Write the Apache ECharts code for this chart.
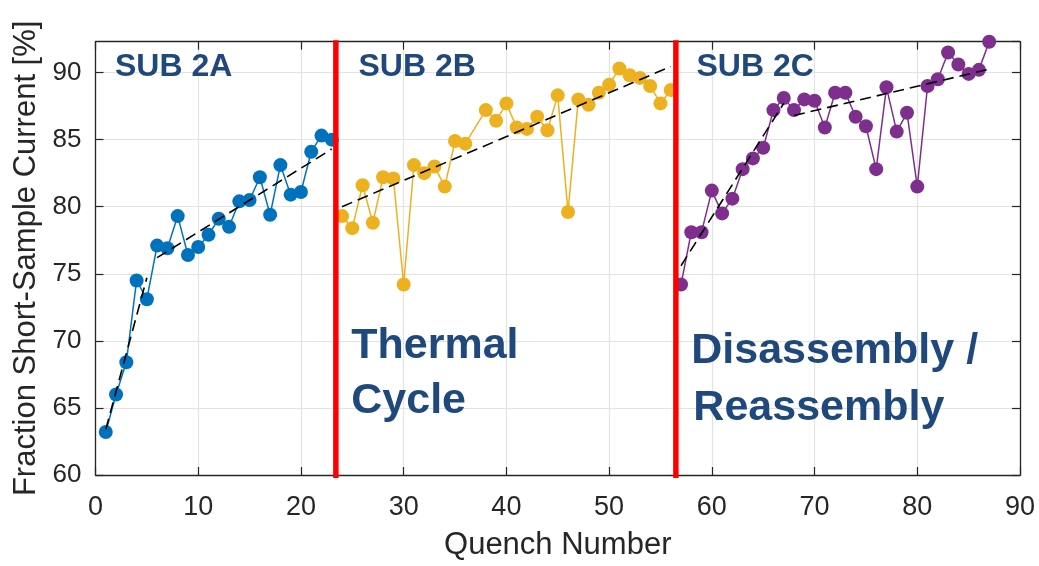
<!DOCTYPE html>
<html>
<head>
<meta charset="utf-8">
<script src="https://cdn.jsdelivr.net/npm/echarts@6/dist/echarts.min.js"></script>
<style>
  html, body { margin: 0; padding: 0; background: #ffffff; }
  #chart { width: 1039px; height: 566px; }
</style>
</head>
<body>
<div id="chart"></div>
<script>
// Quench performance of three sub-assemblies: [quench number, fraction of short-sample current %]
const sub2A = [
  [1, 63.2], [2, 66.0], [3, 68.4], [4, 74.5], [5, 73.1], [6, 77.1], [7, 76.9], [8, 79.3],
  [9, 76.4], [10, 77.0], [11, 77.9], [12, 79.1], [13, 78.5], [14, 80.4], [15, 80.5],
  [16, 82.2], [17, 79.4], [18, 83.1], [19, 80.9], [20, 81.1], [21, 84.1], [22, 85.3], [23, 85.0]
];
const sub2B = [
  [24, 79.3], [25, 78.4], [26, 81.6], [27, 78.8], [28, 82.2], [29, 82.1], [30, 74.2],
  [31, 83.1], [32, 82.5], [33, 83.0], [34, 81.5], [35, 84.9], [36, 84.7], [38, 87.2],
  [39, 86.4], [40, 87.7], [41, 85.9], [42, 85.8], [43, 86.7], [44, 85.7], [45, 88.3],
  [46, 79.6], [47, 88.0], [48, 87.6], [49, 88.5], [50, 89.1], [51, 90.3], [52, 89.8],
  [53, 89.6], [54, 89.0], [55, 87.7], [56, 88.7]
];
const sub2C = [
  [57, 74.2], [58, 78.1], [59, 78.1], [60, 81.2], [61, 79.5], [62, 80.6], [63, 82.8],
  [64, 83.6], [65, 84.4], [66, 87.2], [67, 88.1], [68, 87.2], [69, 88.0], [70, 87.9],
  [71, 85.9], [72, 88.5], [73, 88.5], [74, 86.7], [75, 86.0], [76, 82.8], [77, 88.9],
  [78, 85.6], [79, 87.0], [80, 81.5], [81, 89.0], [82, 89.5], [83, 91.5], [84, 90.6],
  [85, 89.9], [86, 90.2], [87, 92.3]
];

// Linear trend segments (end points)
const trendA1 = [[1, 63.4], [5, 74.7]];
const trendA2 = [[6, 76.2], [23, 84.3]];
const trendB  = [[24, 80.0], [56, 90.45]];
const trendC1 = [[57, 75.6], [67, 87.7]];
const trendC2 = [[68, 86.8], [87, 90.25]];

// Events separating the sub-assembly runs
const eventX = [23.4, 56.5];
const eventSpan = [59.78, 92.4];

// Text annotations: [x, y, text]
const subLabels = [
  [1.9, 90.4, 'SUB 2A'],
  [25.6, 90.4, 'SUB 2B'],
  [58.5, 90.4, 'SUB 2C']
];
const eventLabels = [
  [24.9, 69.6, 'Thermal'],
  [24.9, 65.5, 'Cycle'],
  [58.0, 69.25, 'Disassembly /'],
  [58.2, 64.95, 'Reassembly']
];

const xTicks = { min: 0, max: 90, interval: 10 };
const yTicks = { min: 60, max: 92.3, interval: 5 };

const FONT = "'Liberation Sans', Arial, Helvetica, sans-serif";
const AXIS_COLOR = '#262626';
const GRID_COLOR = '#e3e3e3';
const NOTE_COLOR = '#1F497D';

const chart = echarts.init(document.getElementById('chart'), null, { renderer: 'canvas' });

function dataSeries(name, data, color) {
  return {
    name, type: 'line', data, clip: false,
    symbol: 'circle', symbolSize: 14, showSymbol: true,
    lineStyle: { color, width: 1.5 },
    itemStyle: { color, opacity: 1 },
    z: 3, silent: true, animation: false
  };
}
function trendSeries(data) {
  return {
    type: 'line', data, clip: false, symbol: 'none',
    lineStyle: { color: '#000000', width: 1.6, type: [11, 6] },
    z: 4, silent: true, animation: false
  };
}
function eventSeries(x) {
  return {
    type: 'line', data: [[x, eventSpan[0]], [x, eventSpan[1]]], clip: false, symbol: 'none',
    lineStyle: { color: '#ff0000', width: 5.5 },
    z: 5, silent: true, animation: false
  };
}
function textSeries(items, fontSize) {
  return {
    type: 'scatter', symbolSize: 0, clip: false, silent: true, animation: false, z: 6,
    itemStyle: { opacity: 1 },
    data: items.map(d => ({ value: [d[0], d[1]], label: { formatter: d[2] } })),
    label: {
      show: true, position: 'inside', align: 'left', verticalAlign: 'middle', opacity: 1,
      color: NOTE_COLOR, fontFamily: FONT, fontWeight: 'bold', fontSize
    }
  };
}

const yFmt = v => (Math.abs(v % 5) < 1e-9 ? String(v) : '');

chart.setOption({
  animation: false,
  backgroundColor: '#ffffff',
  grid: { left: 95.5, right: 19, top: 41.7, bottom: 89 },
  xAxis: [
    {
      type: 'value', min: xTicks.min, max: xTicks.max, interval: xTicks.interval,
      name: 'Quench Number', nameLocation: 'middle', nameGap: 55,
      nameTextStyle: { color: AXIS_COLOR, fontSize: 31, fontFamily: FONT },
      axisLine: { show: true, onZero: false, lineStyle: { color: AXIS_COLOR, width: 1.3 } },
      axisTick: { show: true, inside: true, length: 8, lineStyle: { color: AXIS_COLOR, width: 1.2 } },
      axisLabel: { color: AXIS_COLOR, fontSize: 27, fontFamily: FONT, margin: 19 },
      splitLine: { show: true, lineStyle: { color: GRID_COLOR, width: 1.2 } }
    },
    {
      type: 'value', position: 'top', min: xTicks.min, max: xTicks.max, interval: xTicks.interval,
      axisLine: { show: true, onZero: false, lineStyle: { color: AXIS_COLOR, width: 1.3 } },
      axisTick: { show: true, inside: true, length: 8, lineStyle: { color: AXIS_COLOR, width: 1.2 } },
      axisLabel: { show: false }, splitLine: { show: false }
    }
  ],
  yAxis: [
    {
      type: 'value', min: yTicks.min, max: yTicks.max, interval: yTicks.interval,
      name: 'Fraction Short-Sample Current [%]', nameLocation: 'middle', nameGap: 52,
      nameTextStyle: { color: AXIS_COLOR, fontSize: 31, fontFamily: FONT },
      axisLine: { show: true, onZero: false, lineStyle: { color: AXIS_COLOR, width: 1.3 } },
      axisTick: { show: true, inside: true, length: 8, lineStyle: { color: AXIS_COLOR, width: 1.2 } },
      axisLabel: { color: AXIS_COLOR, fontSize: 26, fontFamily: FONT, margin: 14, formatter: yFmt, showMaxLabel: false },
      splitLine: { show: true, lineStyle: { color: GRID_COLOR, width: 1.2 } }
    },
    {
      type: 'value', position: 'right', min: yTicks.min, max: yTicks.max, interval: yTicks.interval,
      axisLine: { show: true, onZero: false, lineStyle: { color: AXIS_COLOR, width: 1.3 } },
      axisTick: { show: true, inside: true, length: 8, lineStyle: { color: AXIS_COLOR, width: 1.2 } },
      axisLabel: { show: false }, splitLine: { show: false }
    }
  ],
  series: [
    dataSeries('SUB 2A', sub2A, '#0072BD'),
    dataSeries('SUB 2B', sub2B, '#EDB120'),
    dataSeries('SUB 2C', sub2C, '#7E2F8E'),
    trendSeries(trendA1), trendSeries(trendA2), trendSeries(trendB),
    trendSeries(trendC1), trendSeries(trendC2),
    eventSeries(eventX[0]), eventSeries(eventX[1]),
    textSeries(subLabels, 32),
    textSeries(eventLabels, 43)
  ]
});
</script>
</body>
</html>
